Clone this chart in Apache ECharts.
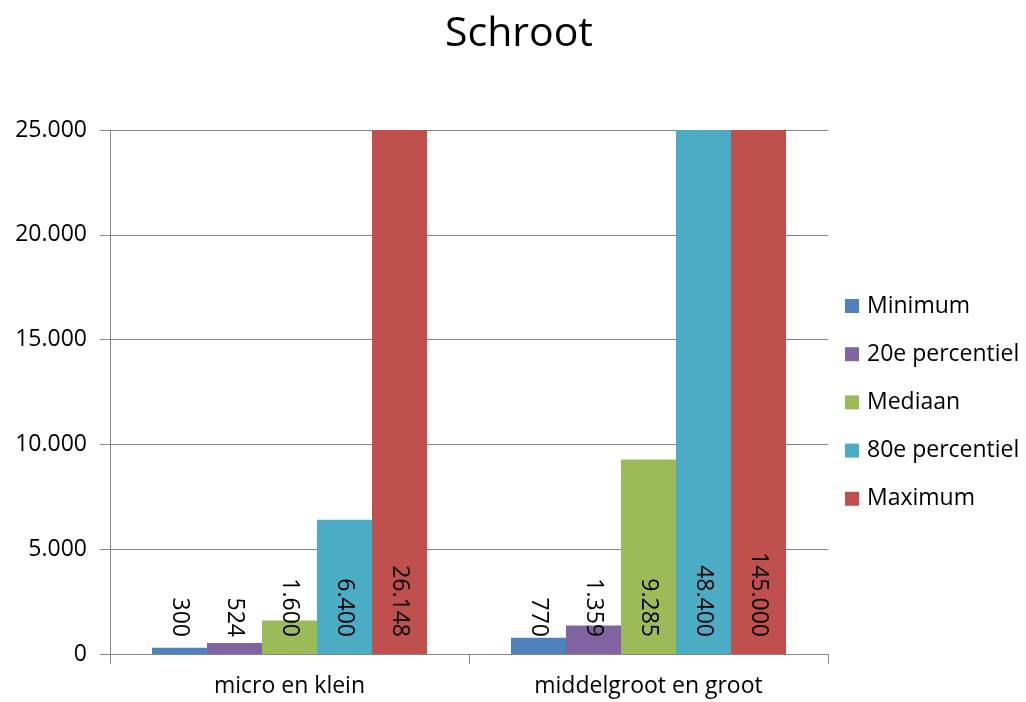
<!DOCTYPE html>
<html>
<head>
<meta charset="utf-8">
<script src="https://cdn.jsdelivr.net/npm/echarts@6/dist/echarts.min.js"></script>
<style>html,body{margin:0;padding:0;background:#fff;}#c{width:1026px;height:702px;}</style>
</head>
<body>
<div id="c"></div>
<script>
const categories = ['micro en klein', 'middelgroot en groot'];
const seriesNames = ['Minimum', '20e percentiel', 'Mediaan', '80e percentiel', 'Maximum'];
const minimum = [300, 770];
const p20 = [524, 1359];
const mediaan = [1600, 9285];
const p80 = [6400, 48400];
const maximum = [26148, 145000];
const colors = ['#4F81BD', '#8064A2', '#9BBB59', '#4BACC6', '#C0504D'];
const yTicks = [0, 5000, 10000, 15000, 20000, 25000];

function nl(v) {
  return String(Math.round(v)).replace(/\B(?=(\d{3})+(?!\d))/g, '.');
}
const FONT = 'Open Sans';
const allData = [minimum, p20, mediaan, p80, maximum];

const chart = echarts.init(document.getElementById('c'));
chart.setOption({
  backgroundColor: '#fff',
  animation: false,
  title: {
    text: 'Schroot', left: 519, textAlign: 'center', top: 14, padding: 0,
    textStyle: { fontFamily: FONT, fontSize: 41, fontWeight: 'normal', color: '#000' }
  },
  legend: {
    orient: 'vertical', left: 845, top: 294, padding: 0,
    icon: 'rect', itemWidth: 14, itemHeight: 14, itemGap: 24.2,
    textStyle: { fontFamily: FONT, fontSize: 23, color: '#000', lineHeight: 24, padding: [0, 0, 0, 3] },
    data: seriesNames
  },
  grid: { left: 110, right: 198, top: 130, bottom: 48, containLabel: false },
  xAxis: {
    type: 'category', data: categories,
    axisLine: { lineStyle: { color: '#868686', width: 1 } },
    axisTick: { show: true, length: 10, lineStyle: { color: '#868686' } },
    axisLabel: { fontFamily: FONT, fontSize: 23, color: '#000', margin: 21 }
  },
  yAxis: {
    type: 'value', min: yTicks[0], max: yTicks[yTicks.length - 1], interval: 5000,
    axisLine: { show: true, lineStyle: { color: '#868686', width: 1 } },
    axisTick: { show: true, length: 10, lineStyle: { color: '#868686' } },
    splitLine: { lineStyle: { color: '#868686', width: 1 } },
    axisLabel: { fontFamily: FONT, fontSize: 23, color: '#000', margin: 23, formatter: v => nl(v) }
  },
  series: seriesNames.map((name, i) => ({
    name, type: 'bar', data: allData[i], clip: true,
    barGap: '0%', barCategoryGap: '23.4%',
    itemStyle: { color: colors[i] },
    label: {
      show: true, position: 'insideBottom', distance: 17, rotate: -90,
      align: 'right', verticalAlign: 'middle',
      fontFamily: FONT, fontSize: 23, color: '#000',
      formatter: p => nl(p.value)
    }
  }))
});
</script>
</body>
</html>
